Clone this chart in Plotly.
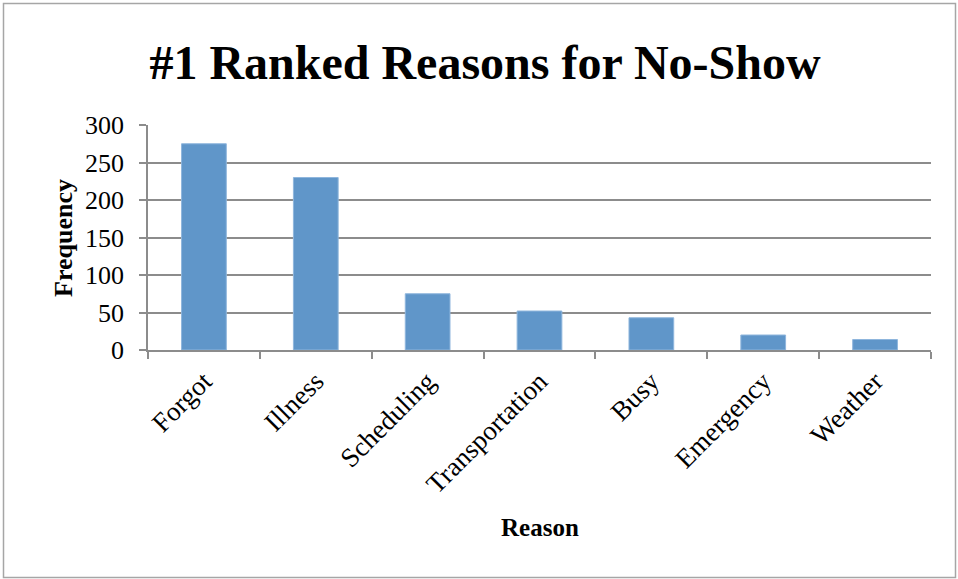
import plotly.graph_objects as go

# Survey results: the top-ranked reason each respondent gave for missing an appointment
reasons = ["Forgot", "Illness", "Scheduling", "Transportation", "Busy", "Emergency", "Weather"]
frequency = [275, 230, 75, 52, 43, 20, 14]
y_ticks = [0, 50, 100, 150, 200, 250, 300]

W, H = 958, 579
L, R, T, B = 148, 27, 125, 229
pw, ph = W - L - R, H - T - B

serif = "Liberation Serif, Times New Roman, serif"
grid_col = "#8c8c8c"

fig = go.Figure(
    go.Bar(
        x=reasons,
        y=frequency,
        marker=dict(color="#6096c9", line=dict(color="#8fb6dd", width=1)),
        width=0.4,
    )
)

fig.update_layout(
    width=W,
    height=H,
    margin=dict(l=L, r=R, t=T, b=B, autoexpand=False),
    paper_bgcolor="white",
    plot_bgcolor="white",
    showlegend=False,
    font=dict(family=serif, color="black"),
    title=dict(
        text="<b>#1 Ranked Reasons for No-Show</b>",
        font=dict(family=serif, size=48, color="black"),
        x=485 / W,
        xanchor="center",
        y=1 - 62 / H,
        yanchor="middle",
    ),
    xaxis=dict(
        type="category",
        tickson="boundaries",
        ticks="outside",
        ticklen=7,
        tickwidth=1.5,
        tickcolor=grid_col,
        ticklabelstandoff=3,
        showline=True,
        linecolor=grid_col,
        linewidth=1.5,
        showgrid=False,
        tickangle=-45,
        tickfont=dict(family=serif, size=27, color="black"),
        automargin=False,
    ),
    yaxis=dict(
        range=[0, 300],
        tickvals=y_ticks,
        ticks="outside",
        ticklen=7,
        tickwidth=1.5,
        tickcolor=grid_col,
        ticklabelstandoff=10,
        showline=True,
        linecolor=grid_col,
        linewidth=1.5,
        showgrid=True,
        gridcolor=grid_col,
        gridwidth=1.5,
        zeroline=False,
        tickfont=dict(family=serif, size=26, color="black"),
        automargin=False,
    ),
)

# Axis titles
fig.add_annotation(
    text="<b>Frequency</b>",
    xref="paper", yref="paper",
    x=(63 - L) / pw, y=(H - B - 238) / ph,
    textangle=-90, showarrow=False,
    font=dict(family=serif, size=26, color="black"),
    xanchor="center", yanchor="middle",
)
fig.add_annotation(
    text="<b>Reason</b>",
    xref="paper", yref="paper",
    x=(540 - L) / pw, y=(H - B - 527) / ph,
    showarrow=False,
    font=dict(family=serif, size=25, color="black"),
    xanchor="center", yanchor="middle",
)

# Outer chart frame
fig.add_shape(
    type="rect",
    xref="paper", yref="paper",
    x0=(3.5 - L) / pw, x1=(955.5 - L) / pw,
    y0=(H - B - 577.5) / ph, y1=(H - B - 3.5) / ph,
    line=dict(color="#a6a6a6", width=1.5),
    fillcolor="rgba(0,0,0,0)",
    layer="below",
)

fig.write_html("out.html")
